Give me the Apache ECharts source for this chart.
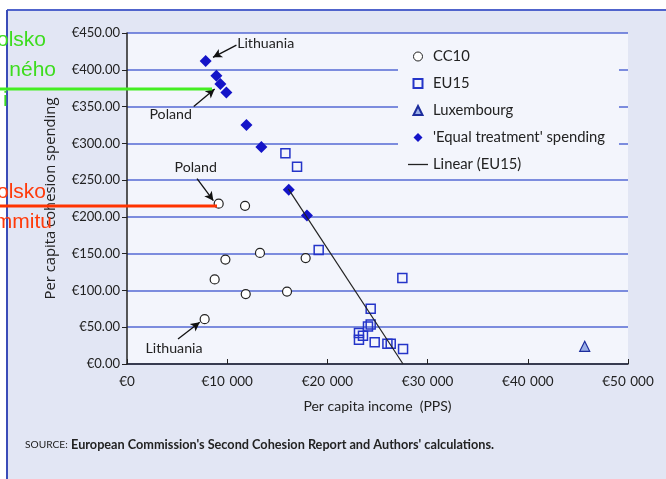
<!DOCTYPE html>
<html>
<head>
<meta charset="utf-8">
<script src="https://cdn.jsdelivr.net/npm/echarts@6/dist/echarts.min.js"></script>
<style>
  html, body { margin: 0; padding: 0; background: #fff; }
  #chart { width: 666px; height: 479px; }
</style>
</head>
<body>
<div id="chart"></div>
<script>
// values (income in PPS euro, spending in euro per capita)
const cc10Income = [9150, 11780, 9820, 13270, 17830, 8750, 11850, 15970, 7750];
const cc10Spend = [218, 215, 142, 151, 144, 115, 95, 98.5, 61];

const eu15Income = [15810, 16970, 19130, 27480, 24320, 24320, 24050, 23150, 23550, 23150, 24720, 25990, 26320, 27550];
const eu15Spend = [286.5, 268, 155, 117, 75, 53.6, 51, 42, 38.5, 33, 29.4, 27.7, 27.7, 20.4];

const luxIncome = [45680];
const luxSpend = [24];

const equalIncome = [7850, 8920, 9320, 9920, 11920, 13410, 16140, 17960];
const equalSpend = [412, 392, 380.5, 369, 325, 295, 237, 202];

const linearIncome = [16100, 27550];
const linearSpend = [238, 0];

const seriesNames = ['CC10', 'EU15', 'Luxembourg', "'Equal treatment' spending", 'Linear (EU15)'];

// annotation labels and arrows, in data units
const noteTexts = ['Lithuania', 'Poland', 'Poland', 'Lithuania'];
const noteAt = [[13840, 436], [4360, 338.7], [6860, 267.4], [4690, 21.8]];
const arrowFrom = [[10920, 433.6], [6660, 350], [6990, 252], [5090, 34]];
const arrowTo = [[8580, 416.9], [8750, 373.7], [8620, 222], [7260, 56.7]];

const pairs = (xs, ys) => xs.map((x, i) => [x, ys[i]]);

const FONT = 'Lato';
const INK = '#222222';
const PLOT_BG = '#f3f5fc';

const euro = v => v === 0 ? '€0' : '€' + String(v / 1000) + '\u2004000';

const chart = echarts.init(document.getElementById('chart'));

const option = {
  animation: false,
  backgroundColor: '#ffffff',
  textStyle: { fontFamily: FONT },
  grid: {
    left: 127, right: 38, top: 33, bottom: 115,
    show: true, backgroundColor: PLOT_BG, borderWidth: 0,
  },
  xAxis: {
    type: 'value',
    min: 0, max: 50000, interval: 10000,
    name: 'Per capita income  (PPS)',
    nameLocation: 'middle',
    nameGap: 35,
    nameTextStyle: { fontSize: 14, color: INK, fontFamily: FONT },
    axisLine: { show: true, onZero: false, lineStyle: { color: INK, width: 1.5 } },
    axisTick: { show: true, inside: true, length: 5, lineStyle: { color: INK } },
    axisLabel: { margin: 11, fontSize: 13.5, color: INK, formatter: euro },
    splitLine: { show: false },
  },
  yAxis: {
    type: 'value',
    min: 0, max: 450, interval: 50,
    name: 'Per capita cohesion spending',
    nameLocation: 'middle',
    nameGap: 69,
    nameTextStyle: { fontSize: 14.8, color: INK, fontFamily: 'Open Sans' },
    axisLine: { show: true, lineStyle: { color: INK, width: 1.5 } },
    axisTick: { show: true, length: 5, lineStyle: { color: INK } },
    axisLabel: { margin: 7, fontSize: 13, color: INK, formatter: v => '€' + v.toFixed(2) },
    splitLine: { show: true, lineStyle: { color: '#5468d4', width: 1.6 } },
  },
  legend: {
    orient: 'vertical',
    left: 398, top: 41,
    padding: [8, 14, 6, 10],
    itemWidth: 20, itemHeight: 9, itemGap: 12,
    symbolKeepAspect: true,
    backgroundColor: PLOT_BG,
    textStyle: { fontSize: 14.8, color: INK, fontFamily: FONT, lineHeight: 14 },
    data: [
      { name: seriesNames[0], icon: 'path://M5,0A5,5,0,1,1,4.99,0Z', itemStyle: { borderWidth: 1 } },
      { name: seriesNames[1], icon: 'path://M0,0L10,0L10,10L0,10Z' },
      { name: seriesNames[2], icon: 'path://M5,0L10,10L0,10Z' },
      { name: seriesNames[3], icon: 'path://M5,0L10,5L5,10L0,5Z' },
      { name: seriesNames[4], icon: 'path://M0,0L20,0L20,1.3L0,1.3Z' },
    ],
  },
  series: [
    {
      name: seriesNames[0], type: 'scatter', symbol: 'circle', symbolSize: 9,
      itemStyle: { color: '#ffffff', borderColor: '#222222', borderWidth: 1.2, opacity: 1 },
      data: pairs(cc10Income, cc10Spend),
    },
    {
      name: seriesNames[1], type: 'scatter', symbol: 'rect', symbolSize: 9,
      itemStyle: { color: 'rgba(255,255,255,0)', borderColor: '#2434c8', borderWidth: 1.5, opacity: 1 },
      data: pairs(eu15Income, eu15Spend),
    },
    {
      name: seriesNames[2], type: 'scatter', symbol: 'triangle', symbolSize: 10,
      itemStyle: { color: '#9aaee6', borderColor: '#1c2c9c', borderWidth: 1.2, opacity: 1 },
      data: pairs(luxIncome, luxSpend),
    },
    {
      name: seriesNames[3], type: 'scatter', symbol: 'diamond', symbolSize: 12,
      itemStyle: { color: '#1414c8', opacity: 1 },
      data: pairs(equalIncome, equalSpend),
    },
    {
      name: seriesNames[4], type: 'line', symbol: 'none',
      lineStyle: { color: '#222222', width: 1.2 },
      itemStyle: { color: '#222222' },
      data: pairs(linearIncome, linearSpend),
    },
    {
      name: 'notes', type: 'scatter', data: [], silent: true,
      markLine: {
        silent: true,
        symbol: ['none', 'arrow'],
        symbolSize: [7, 9],
        label: { show: false },
        lineStyle: { color: '#111111', width: 1.3, type: 'solid' },
        emphasis: { disabled: true },
        data: arrowFrom.map((p, i) => [{ coord: p }, { coord: arrowTo[i] }]),
      },
      markPoint: {
        silent: true,
        symbol: 'circle',
        symbolSize: 0,
        label: { show: true, position: 'inside', fontSize: 14.2, color: INK, fontFamily: FONT },
        data: noteAt.map((p, i) => ({ coord: p, value: noteTexts[i], label: { formatter: noteTexts[i] } })),
      },
    },
  ],
  graphic: [
    { type: 'rect', z: -1, silent: true, shape: { x: 7, y: 10, width: 659, height: 469 }, style: { fill: '#e2e6f4' } },
    { type: 'line', z: 50, silent: true, shape: { x1: 7, y1: 10, x2: 666, y2: 10 }, style: { stroke: '#5064cc', lineWidth: 2 } },
    { type: 'line', z: 50, silent: true, shape: { x1: 7, y1: 10, x2: 7, y2: 479 }, style: { stroke: '#3a4cb8', lineWidth: 2 } },
    {
      type: 'text', z: 50, silent: true,
      style: {
        x: 25, y: 445,
        text: '{s|SOURCE:} {b|European Commission\'s Second Cohesion Report and Authors\' calculations.}',
        textVerticalAlign: 'middle', verticalAlign: 'middle',
        rich: {
          s: { fontSize: 10.2, fontFamily: FONT, fill: INK, color: INK },
          b: { fontSize: 12.7, fontWeight: 'bold', fontFamily: FONT, fill: INK, color: INK },
        },
      },
    },
    // green and red overlay scribbles from the slide
    { type: 'text', z: 100, silent: true, style: { x: 46, y: 40, text: 'Polsko', font: '21px "Liberation Sans"', fill: '#3ddc1e', textAlign: 'right', align: 'right', textVerticalAlign: 'middle', verticalAlign: 'middle' } },
    { type: 'text', z: 100, silent: true, style: { x: 56, y: 70, text: 'ného', font: '21px "Liberation Sans"', fill: '#3ddc1e', textAlign: 'right', align: 'right', textVerticalAlign: 'middle', verticalAlign: 'middle' } },
    { type: 'text', z: 100, silent: true, style: { x: 3, y: 100, text: 'i', font: '21px "Liberation Sans"', fill: '#3ddc1e', textAlign: 'left', align: 'left', textVerticalAlign: 'middle', verticalAlign: 'middle' } },
    { type: 'line', z: 100, silent: true, shape: { x1: 0, y1: 89, x2: 212, y2: 89 }, style: { stroke: '#44ee22', lineWidth: 3 } },
    { type: 'text', z: 100, silent: true, style: { x: 46, y: 192, text: 'Polsko', font: '21px "Liberation Sans"', fill: '#ff3a0a', textAlign: 'right', align: 'right', textVerticalAlign: 'middle', verticalAlign: 'middle' } },
    { type: 'text', z: 100, silent: true, style: { x: 52, y: 222, text: 'mmitu', font: '21px "Liberation Sans"', fill: '#ff3a0a', textAlign: 'right', align: 'right', textVerticalAlign: 'middle', verticalAlign: 'middle' } },
    { type: 'line', z: 100, silent: true, shape: { x1: 0, y1: 206, x2: 217, y2: 206 }, style: { stroke: '#ff3300', lineWidth: 3 } },
  ],
};

chart.setOption(option);
</script>
</body>
</html>
